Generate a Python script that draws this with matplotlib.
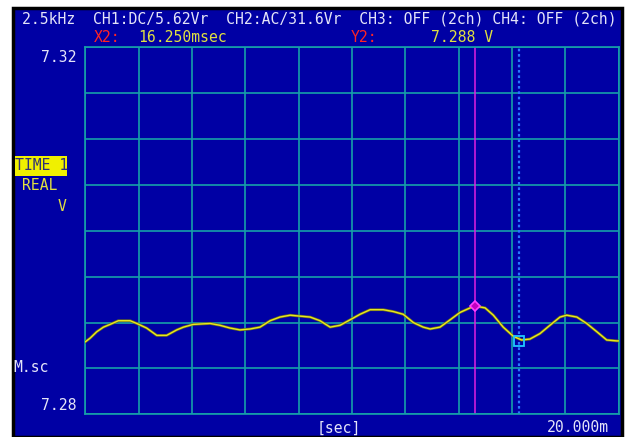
import numpy as np
import matplotlib.pyplot as plt
from matplotlib.patches import Rectangle

# waveform samples: time [ms], voltage [V]
t_ms = [0.0, 0.18, 0.43, 0.68, 0.93, 1.24, 1.68, 1.93, 2.30, 2.68, 3.05,
        3.43, 3.68, 4.05, 4.68, 5.05, 5.43, 5.80, 6.18, 6.55, 6.93, 7.30,
        7.68, 8.05, 8.43, 8.80, 9.18, 9.55, 9.93, 10.30, 10.68, 11.17,
        11.55, 11.92, 12.30, 12.67, 12.93, 13.30, 13.68, 14.05, 14.43,
        14.61, 14.99, 15.30, 15.67, 16.05, 16.36, 16.67, 17.05, 17.42,
        17.80, 18.05, 18.43, 18.80, 19.18, 19.55, 19.93, 20.0]
volts = [7.2879, 7.2883, 7.2890, 7.2895, 7.2898, 7.2902, 7.2902, 7.2899,
         7.2894, 7.2886, 7.2886, 7.2892, 7.2895, 7.2898, 7.2899, 7.2897,
         7.2894, 7.2892, 7.2893, 7.2895, 7.2902, 7.2906, 7.2908, 7.2907,
         7.2906, 7.2902, 7.2895, 7.2897, 7.2903, 7.2909, 7.2914, 7.2914,
         7.2912, 7.2909, 7.2900, 7.2895, 7.2893, 7.2895, 7.2903, 7.2911,
         7.2916, 7.2918, 7.2916, 7.2908, 7.2895, 7.2885, 7.2881, 7.2882,
         7.2888, 7.2897, 7.2906, 7.2908, 7.2906, 7.2899, 7.2890, 7.2881,
         7.2880, 7.2880]

y_top, y_bottom = 7.32, 7.28
x_span = 20.0
x1_ms, x1_v = 14.61, 7.2918     # magenta cursor
x2_ms, y2_v = 16.25, 7.288      # X2 / Y2 cursor readout

header = "2.5kHz  CH1:DC/5.62Vr  CH2:AC/31.6Vr  CH3: OFF (2ch) CH4: OFF (2ch)"
x2_text = "16.250msec"
y2_text = "7.288 V"

BG = "#0000a4"
GRID = "#16a0a8"
WHITE = "#e4e4f8"
YEL = "#e0e040"
RED = "#ff2424"

W, H = 625, 437
fig = plt.figure(figsize=(W / 100, H / 100), dpi=100)
fig.patch.set_facecolor("white")

# screen frame
fig.patches.append(Rectangle((13 / W, 0), (W - 16) / W, 1 - 8.3 / H,
                             transform=fig.transFigure, facecolor=BG,
                             edgecolor="black", linewidth=2.5, zorder=0))

ax = fig.add_axes([85.3 / W, (H - 414.3) / H, 533.4 / W, 367 / H])
ax.set_zorder(2)
ax.set_facecolor(BG)
ax.plot(t_ms, volts, color="#6a6a20", lw=2.0, zorder=3)
ax.plot(t_ms, volts, color="#e8e820", lw=1.0, zorder=4)

ax.axvline(x1_ms, color="#e020e0", lw=1.1, zorder=2)
ax.axvline(x2_ms, color="#2878ff", lw=1.6, ls=(0, (1.2, 1.2)), zorder=2)
ax.plot([x1_ms], [x1_v], marker="D", ms=5, mfc="#c000c0", mec="#ff40ff",
        mew=1.2, zorder=5)
ax.plot([x2_ms], [y2_v], marker="s", ms=7, mfc="none", mec="#20c8ff",
        mew=1.3, zorder=5)

ax.set_xlim(0, x_span)
ax.set_ylim(y_bottom, y_top)
ax.set_xticks(np.arange(0, x_span + 0.1, 2))
ax.set_yticks(np.linspace(y_bottom, y_top, 9))
ax.tick_params(length=0, labelbottom=False, labelleft=False)
ax.grid(True, color=GRID, lw=1.2)
ax.set_axisbelow(True)
for s in ax.spines.values():
    s.set_color(GRID)
    s.set_linewidth(1.2)


def put(x, y, s, color=WHITE, ha="left", **kw):
    fig.text(x / W, 1 - y / H, s, color=color, ha=ha, va="center",
             family="DejaVu Sans Mono", fontsize=10.6, **kw)


put(22, 19, header)
put(94, 37, "X2:", RED)
put(138, 37, x2_text, YEL)
put(351, 37, "Y2:", RED)
put(431, 37, y2_text, YEL)

put(76, 58, f"{y_top:.2f}", ha="right")
put(76, 406, f"{y_bottom:.2f}", ha="right")
put(13, 367, "M.sc")
put(339, 428, "[sec]", ha="center")
put(609, 428, f"{x_span:.3f}m", ha="right")

fig.patches.append(Rectangle((15 / W, 1 - 175.7 / H), 52 / W, 20 / H,
                             transform=fig.transFigure, facecolor="#f0f000",
                             edgecolor="none", zorder=1))
put(15, 166, "TIME 1", color="#303078")
put(22, 186, "REAL", YEL)
put(58, 206, "V", YEL)

fig.savefig("out.png", dpi=100)
